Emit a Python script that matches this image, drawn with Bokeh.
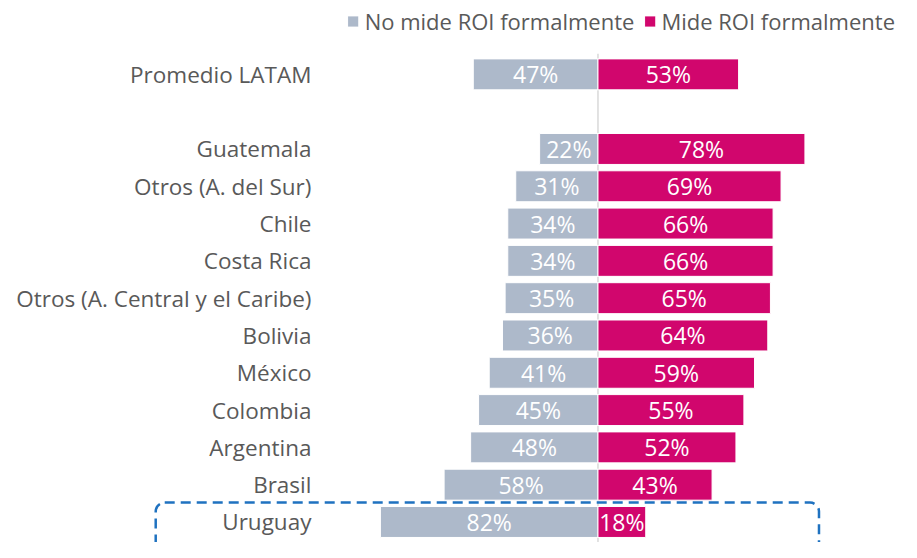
from bokeh.plotting import figure
from bokeh.models import ColumnDataSource, Range1d, BoxAnnotation, Legend, LegendItem
from bokeh.core.properties import value
from bokeh.embed import file_html
from bokeh.resources import INLINE

categories = ["Promedio LATAM", "Guatemala", "Otros (A. del Sur)", "Chile", "Costa Rica",
              "Otros (A. Central y el Caribe)", "Bolivia", "México", "Colombia",
              "Argentina", "Brasil", "Uruguay"]
no_mide = [47, 22, 31, 34, 34, 35, 36, 41, 45, 48, 58, 82]
mide = [53, 78, 69, 66, 66, 65, 64, 59, 55, 52, 43, 18]
row_pos = [-2, 0, 1, 2, 3, 4, 5, 6, 7, 8, 9, 10]
series_names = ["No mide ROI formalmente", "Mide ROI formalmente"]

GRAY = "#adb9ca"
MAG = "#d1066d"
TXT = "#595959"
FONT = "Open Sans"

src = ColumnDataSource(dict(
    cat=categories, y=row_pos,
    left_neg=[-v for v in no_mide], no=no_mide, mide=mide,
    zero=[0] * len(categories),
    no_mid=[-v / 2 for v in no_mide], mide_mid=[v / 2 for v in mide],
    no_lbl=[f"{v}%" for v in no_mide], mide_lbl=[f"{v}%" for v in mide],
    lab_x=[-108] * len(categories),
))

p = figure(width=901, height=542, output_backend="svg", toolbar_location=None,
           x_range=Range1d(-225.2, 114.4), y_range=Range1d(10.55, -3.98),
           min_border=0)
p.axis.visible = False
p.grid.visible = False
p.outline_line_color = None

# center line
p.segment(x0=0, y0=-2.55, x1=0, y1=10.8, line_color="#d9d9d9", line_width=1.5)

r_no = p.hbar(y="y", left="left_neg", right="zero", height=0.83, source=src,
              fill_color=GRAY, line_color="white", line_width=1)
r_mi = p.hbar(y="y", left="zero", right="mide", height=0.83, source=src,
              fill_color=MAG, line_color="white", line_width=1)

p.text(x="no_mid", y="y", text="no_lbl", source=src, text_align="center",
       text_baseline="middle", text_color="white", text_font=value(FONT),
       text_font_size="23px")
p.text(x="mide_mid", y="y", text="mide_lbl", source=src, text_align="center",
       text_baseline="middle", text_color="white", text_font=value(FONT),
       text_font_size="23px")
p.text(x="lab_x", y="y", text="cat", source=src, text_align="right",
       text_baseline="middle", text_color=TXT, text_font=value(FONT),
       text_font_size="22.5px")

box = BoxAnnotation(left=-166.7, right=83.3, top=9.48, bottom=11.2,
                    fill_alpha=0, line_color="#1f72c0", line_alpha=1.0, line_width=2.5,
                    line_dash="10 6", border_radius=9)
p.add_layout(box)

legend = Legend(items=[LegendItem(label=series_names[0], renderers=[r_no]),
                       LegendItem(label=series_names[1], renderers=[r_mi])],
                orientation="horizontal", location="top_right",
                background_fill_alpha=0, border_line_color=None,
                label_text_font=FONT, label_text_font_size="22px",
                label_text_color=TXT, glyph_width=14, glyph_height=14,
                spacing=8, padding=0, margin=6, label_standoff=5)
p.add_layout(legend)

open("out.html", "w").write(file_html(p, INLINE))
